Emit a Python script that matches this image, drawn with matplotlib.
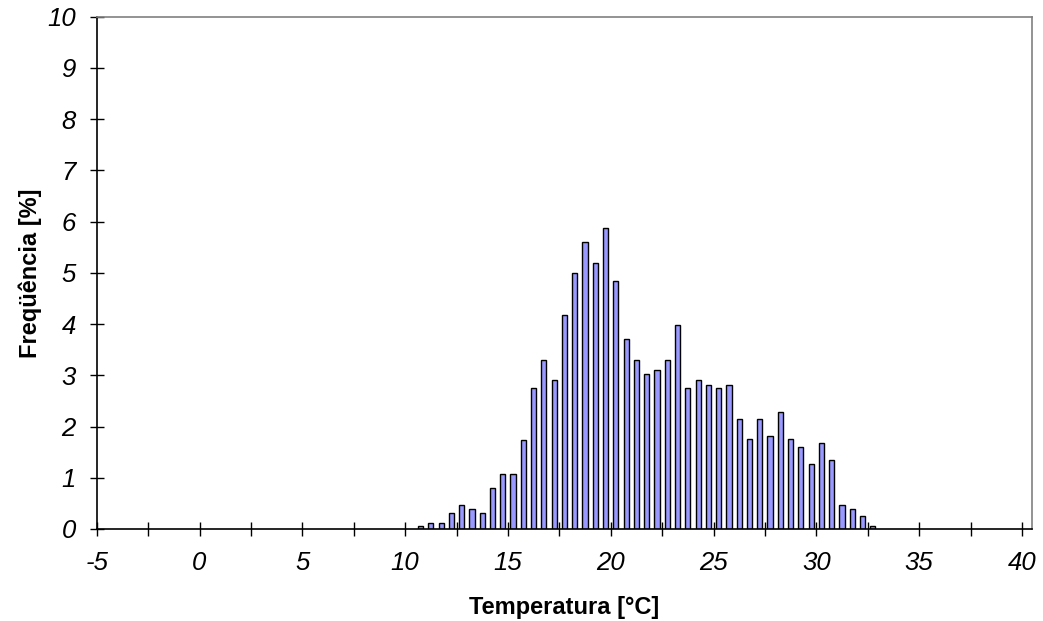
import matplotlib.pyplot as plt
import numpy as np

plt.rcParams['font.family'] = ['Liberation Sans', 'DejaVu Sans']

# bin centres (°C) and frequencies (%)
temp = np.arange(10.75, 32.76, 0.5)
freq = [0.06, 0.12, 0.12, 0.32, 0.46, 0.40, 0.32, 0.81, 1.07, 1.07,
        1.74, 2.75, 3.29, 2.90, 4.18, 4.99, 5.60, 5.20, 5.87, 4.85,
        3.70, 3.29, 3.03, 3.10, 3.29, 3.98, 2.76, 2.90, 2.82, 2.76,
        2.82, 2.15, 1.75, 2.15, 1.81, 2.28, 1.75, 1.61, 1.27, 1.68,
        1.34, 0.46, 0.39, 0.25, 0.06]

xticks = np.arange(-5, 40.1, 2.5)
xlabels = [str(int(v)) if v % 5 == 0 else '' for v in xticks]
yticks = np.arange(0, 11, 1)

fig = plt.figure(figsize=(10.43, 6.21), dpi=100)
ax = fig.add_axes([96.7/1043, (621-529)/621, (1032-96.7)/1043, (529-16.7)/621])

ax.bar(temp, freq, width=0.25, color='#9999ff', edgecolor='black', linewidth=1.0)

ax.set_xlim(-5, 40.49)
ax.set_ylim(0, 10)
ax.set_xticks(xticks)
ax.set_xticklabels(xlabels)
ax.set_yticks(yticks)

ax.tick_params(direction='inout', length=10, width=1, labelsize=18.5)
ax.tick_params(axis='x', pad=11)
ax.tick_params(axis='y', pad=10)
for lab in ax.get_xticklabels() + ax.get_yticklabels():
    lab.set_style('italic')

ax.spines['top'].set_color('#808080')
ax.spines['right'].set_color('#808080')
for s in ax.spines.values():
    s.set_linewidth(1.2)

ax.set_xlabel('Temperatura [°C]', fontsize=17, fontweight='bold', labelpad=15)
ax.set_ylabel('Freqüência [%]', fontsize=17, fontweight='bold', labelpad=4)

plt.savefig('out.png', dpi=100)
